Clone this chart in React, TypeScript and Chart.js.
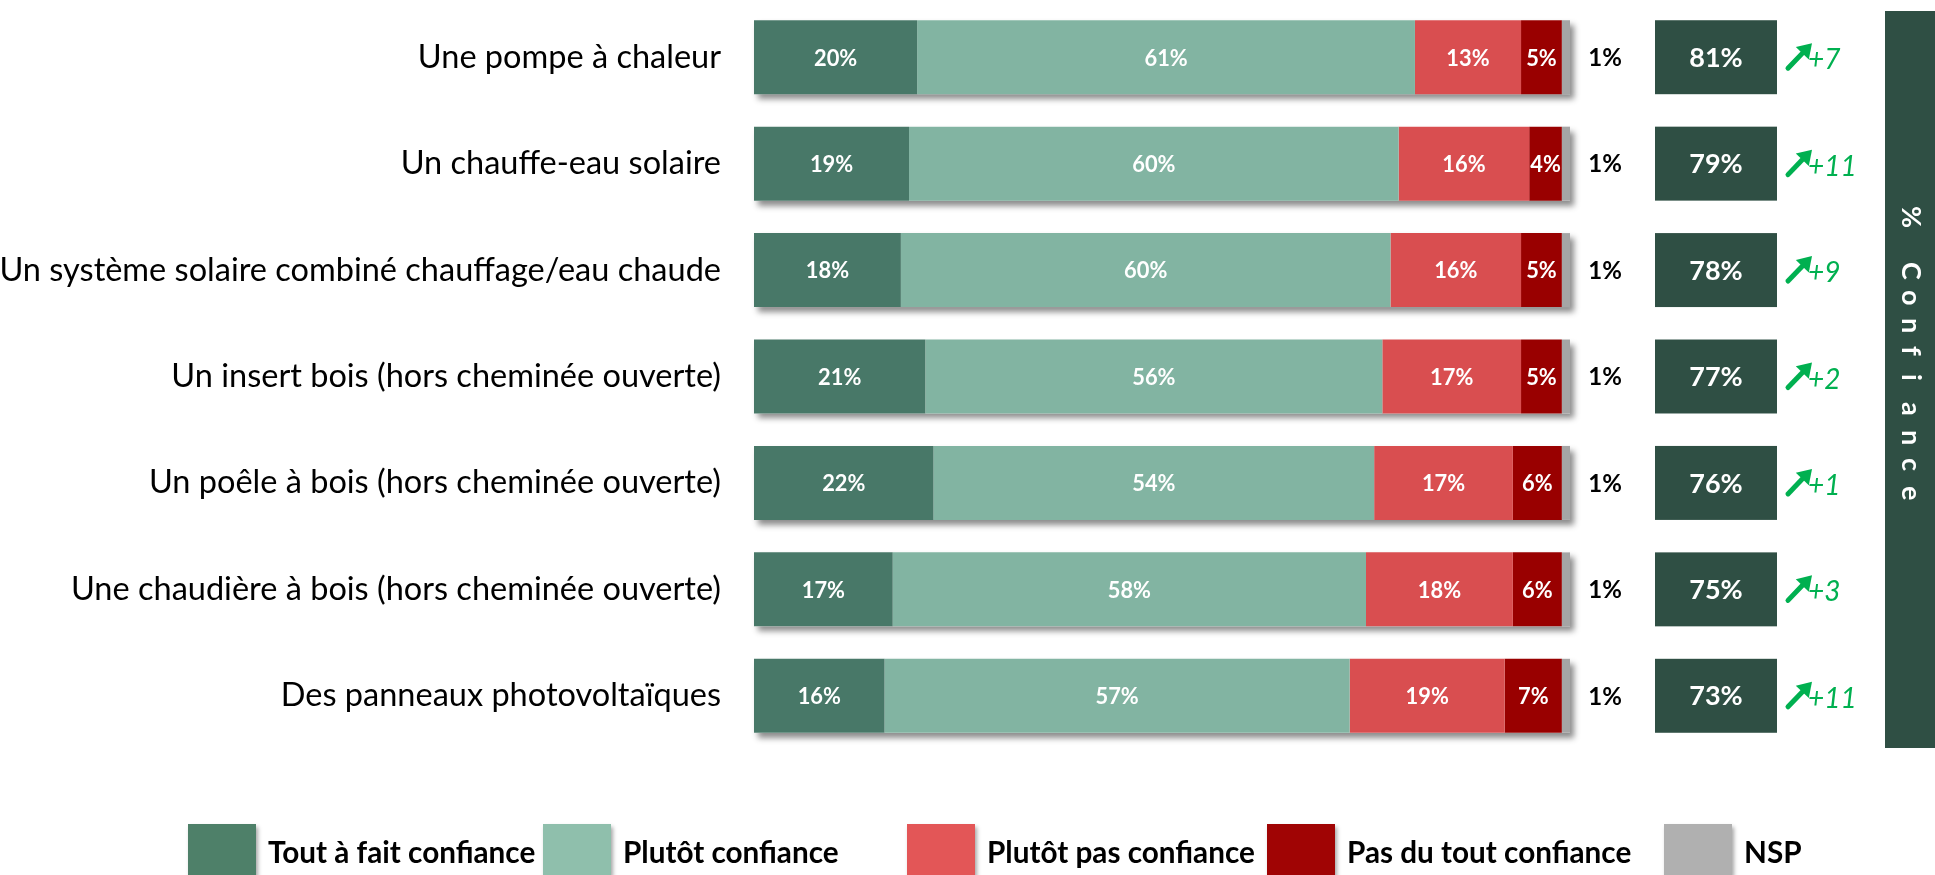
import React, { useEffect, useRef } from "react";
import { Chart, registerables } from "chart.js";
Chart.register(...registerables);

const categories = [
  "Une pompe à chaleur",
  "Un chauffe-eau solaire",
  "Un système solaire combiné chauffage/eau chaude",
  "Un insert bois (hors cheminée ouverte)",
  "Un poêle à bois (hors cheminée ouverte)",
  "Une chaudière à bois (hors cheminée ouverte)",
  "Des panneaux photovoltaïques",
];
const seriesLabels = [
  "Tout à fait confiance",
  "Plutôt confiance",
  "Plutôt pas confiance",
  "Pas du tout confiance",
  "NSP",
];
const toutAFait = [20, 19, 18, 21, 22, 17, 16];
const plutot = [61, 60, 60, 56, 54, 58, 57];
const plutotPas = [13, 16, 16, 17, 17, 18, 19];
const pasDuTout = [5, 4, 5, 5, 6, 6, 7];
const nsp = [1, 1, 1, 1, 1, 1, 1];
const totalConfiance = [81, 79, 78, 77, 76, 75, 73];
const evolution = ["+7", "+11", "+9", "+2", "+1", "+3", "+11"];
const sideTitle = "% Confiance";

const seriesValues = [toutAFait, plutot, plutotPas, pasDuTout, nsp];
const barColors = ["#487868", "#82b4a2", "#d94e50", "#990000", "#a5a5a5"];
const legendColors = ["#4e8069", "#8fbfac", "#e35657", "#a00404", "#b0b0b0"];
const BOX = "#2f4f44";
const GREEN = "#00b050";
const FONT = "Lato, 'Open Sans', sans-serif";

function txt(ctx: CanvasRenderingContext2D, s: string, x: number, y: number, font: string, color: string, align: CanvasTextAlign, sx = 1) {
  ctx.save();
  ctx.font = font;
  ctx.fillStyle = color;
  ctx.textBaseline = "middle";
  ctx.textAlign = align;
  ctx.translate(x, y);
  ctx.scale(sx, 1);
  ctx.fillText(s, 0, 0);
  ctx.restore();
}

const decor = {
  id: "decor",
  beforeDatasetsDraw(chart: any) {
    const ctx = chart.ctx as CanvasRenderingContext2D;
    const xs = chart.scales.x;
    const meta0 = chart.getDatasetMeta(0);
    categories.forEach((_, i) => {
      const el = meta0.data[i];
      const total = seriesValues.reduce((a, s) => a + s[i], 0);
      const x0 = xs.getPixelForValue(0);
      const x1 = xs.getPixelForValue(total);
      ctx.save();
      ctx.shadowColor = "rgba(0,0,0,0.45)";
      ctx.shadowBlur = 6;
      ctx.shadowOffsetX = 4;
      ctx.shadowOffsetY = 5;
      ctx.fillStyle = "#ffffff";
      ctx.fillRect(x0, el.y - el.height / 2, x1 - x0, el.height);
      ctx.restore();
    });
  },
  afterDatasetsDraw(chart: any) {
    const ctx = chart.ctx as CanvasRenderingContext2D;
    const xs = chart.scales.x;
    const meta0 = chart.getDatasetMeta(0);
    for (let d = 0; d < 4; d++) {
      const meta = chart.getDatasetMeta(d);
      meta.data.forEach((el: any, i: number) => {
        const cx = (el.x + el.base) / 2;
        txt(ctx, seriesValues[d][i] + "%", cx, el.y + 1, `bold 23px ${FONT}`, "#ffffff", "center", 0.95);
      });
    }
    categories.forEach((cat, i) => {
      const el = meta0.data[i];
      const y = el.y;
      const h = el.height;
      const total = seriesValues.reduce((a, s) => a + s[i], 0);
      const xEnd = xs.getPixelForValue(total);
      txt(ctx, nsp[i] + "%", xEnd + 35, y + 1, `bold 24px ${FONT}`, "#000000", "center");
      txt(ctx, cat, 721, y, `32.5px ${FONT}`, "#000000", "right");
      ctx.fillStyle = BOX;
      ctx.fillRect(1655, y - h / 2, 122, h);
      txt(ctx, totalConfiance[i] + "%", 1716, y + 1, `bold 27px ${FONT}`, "#ffffff", "center");
      const tx = 1788, ty = y + 11, hx = 1812, hy = y - 14;
      ctx.save();
      ctx.strokeStyle = GREEN;
      ctx.fillStyle = GREEN;
      ctx.lineWidth = 5;
      ctx.lineCap = "round";
      const ang = Math.atan2(hy - ty, hx - tx);
      const hl = 14, hw = 9;
      const bx = hx - hl * Math.cos(ang), by = hy - hl * Math.sin(ang);
      ctx.beginPath();
      ctx.moveTo(tx, ty);
      ctx.lineTo(bx + 2 * Math.cos(ang), by + 2 * Math.sin(ang));
      ctx.stroke();
      ctx.beginPath();
      ctx.moveTo(hx, hy);
      ctx.lineTo(bx + hw * Math.cos(ang + Math.PI / 2), by + hw * Math.sin(ang + Math.PI / 2));
      ctx.lineTo(bx + hw * Math.cos(ang - Math.PI / 2), by + hw * Math.sin(ang - Math.PI / 2));
      ctx.closePath();
      ctx.fill();
      ctx.restore();
      txt(ctx, evolution[i], 1808, y + 3, `italic 28px ${FONT}`, GREEN, "left");
    });
    ctx.fillStyle = BOX;
    ctx.fillRect(1885, 11, 50, 737);
    ctx.save();
    ctx.translate(1911, 206);
    ctx.rotate(Math.PI / 2);
    ctx.font = `bold 27px ${FONT}`;
    ctx.fillStyle = "#ffffff";
    ctx.textBaseline = "middle";
    ctx.textAlign = "left";
    let off = 0;
    for (const ch of sideTitle) {
      if (ch === " ") { off += 28; continue; }
      ctx.fillText(ch, off, 0);
      off += 28;
    }
    ctx.restore();
    const lx = [188, 543, 907, 1267, 1664];
    seriesLabels.forEach((lab, k) => {
      ctx.save();
      ctx.shadowColor = "rgba(0,0,0,0.35)";
      ctx.shadowBlur = 4;
      ctx.shadowOffsetX = 2;
      ctx.shadowOffsetY = 3;
      ctx.fillStyle = legendColors[k];
      ctx.fillRect(lx[k], 824, 68, 51);
      ctx.restore();
      txt(ctx, lab, lx[k] + 80, 853, `bold 30px ${FONT}`, "#000000", "left", 0.99);
    });
  },
};

export default function App() {
  const ref = useRef<HTMLCanvasElement | null>(null);
  useEffect(() => {
    document.body.style.margin = "0";
    const chart = new Chart(ref.current as HTMLCanvasElement, {
      type: "bar",
      data: {
        labels: categories,
        datasets: seriesValues.map((vals, k) => ({
          label: seriesLabels[k],
          data: vals,
          backgroundColor: barColors[k],
          borderWidth: 0,
          barPercentage: 0.695,
          categoryPercentage: 1,
        })),
      },
      options: {
        indexAxis: "y",
        responsive: false,
        animation: false,
        layout: { padding: { left: 754, right: 365, top: 4, bottom: 126 } },
        scales: {
          x: { stacked: true, min: 0, max: 100, display: false },
          y: { stacked: true, display: false },
        },
        plugins: { legend: { display: false }, tooltip: { enabled: false } },
      },
      plugins: [decor],
    } as any);
    return () => chart.destroy();
  }, []);
  return (
    <div style={{ width: 1935, height: 875 }}>
      <canvas ref={ref} width={1935} height={875} />
    </div>
  );
}
